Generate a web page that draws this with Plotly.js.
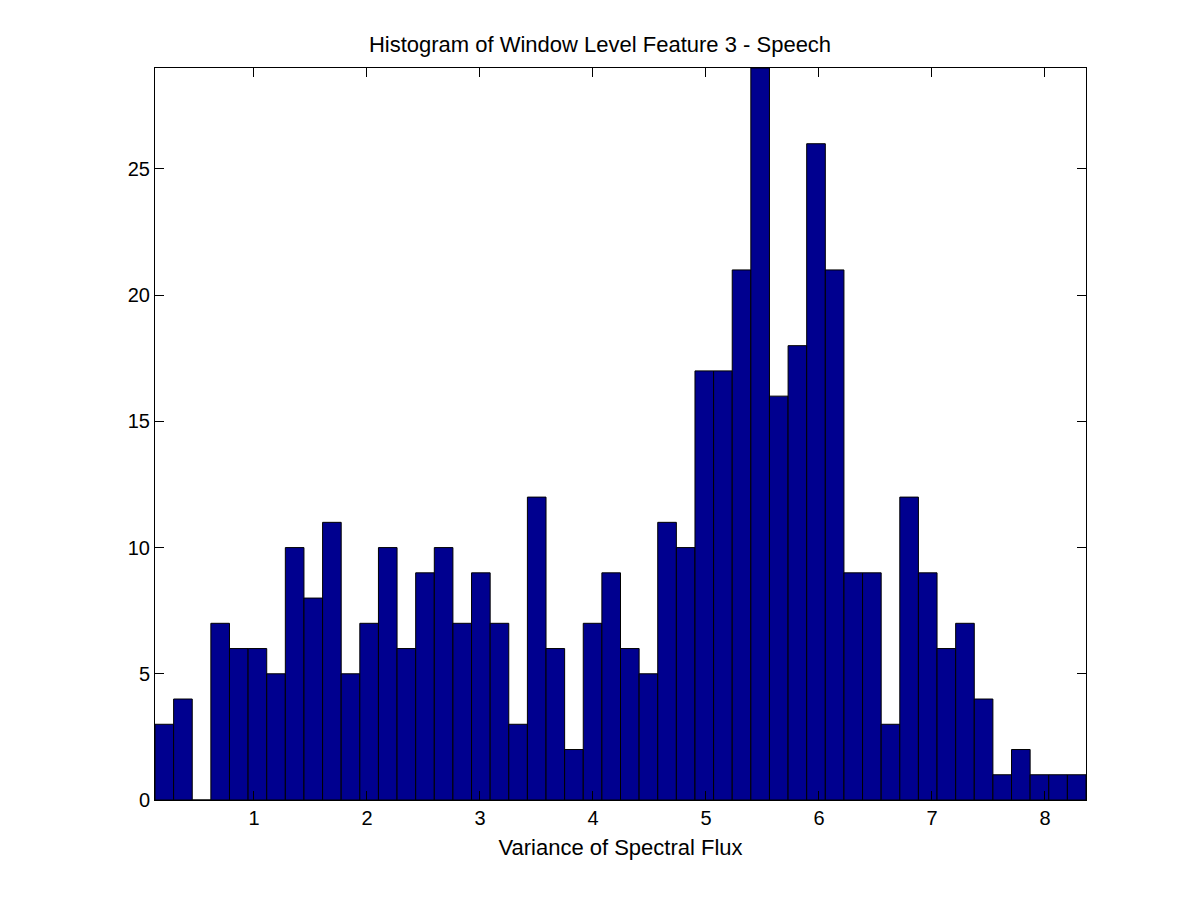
<!DOCTYPE html>
<html>
<head>
<meta charset="utf-8">
<script src="https://cdn.plot.ly/plotly-3.0.1.min.js"></script>
<style>
  html, body { margin: 0; padding: 0; background: #fff; }
  #chart { width: 1200px; height: 900px; }
</style>
</head>
<body>
<div id="chart"></div>
<script>
// histogram bins (50 equal bins)
const binStart = 0.124;
const binWidth = 0.16478;
const counts = [3, 4, 0, 7, 6, 6, 5, 10, 8, 11,
                5, 7, 10, 6, 9, 10, 7, 9, 7, 3,
                12, 6, 2, 7, 9, 6, 5, 11, 10, 17,
                17, 21, 29, 16, 18, 26, 21, 9, 9, 3,
                12, 9, 6, 7, 4, 1, 2, 1, 1, 1];
const xTicks = [1, 2, 3, 4, 5, 6, 7, 8];
const yTicks = [0, 5, 10, 15, 20, 25];

const centers = counts.map((_, i) => binStart + binWidth * (i + 0.5));
const xEnd = binStart + binWidth * counts.length;

const fam = 'Liberation Sans, Arial, sans-serif';

const trace = {
    type: 'bar',
    x: centers,
    y: counts,
    width: binWidth,
    marker: { color: '#00008F', line: { color: '#000', width: 1 } },
    hoverinfo: 'x+y'
};

const layout = {
    width: 1200,
    height: 900,
    paper_bgcolor: '#fff',
    plot_bgcolor: '#fff',
    font: { family: fam, size: 20, color: '#000' },
    showlegend: false,
    margin: { l: 155, r: 114, t: 68, b: 100 },
    title: {
        text: 'Histogram of Window Level Feature 3 - Speech',
        font: { family: fam, size: 22, color: '#000' },
        x: 0.5, xanchor: 'center', y: 0.951, yanchor: 'middle'
    },
    xaxis: {
        range: [binStart, xEnd],
        tickvals: xTicks,
        ticks: 'inside', ticklen: 9, tickcolor: '#000',
        showline: true, linecolor: '#000', linewidth: 1, mirror: 'ticks',
        showgrid: false, zeroline: false,
        tickfont: { family: fam, size: 20, color: '#000' },
        title: { text: 'Variance of Spectral Flux', font: { family: fam, size: 22, color: '#000' }, standoff: 11 }
    },
    yaxis: {
        range: [0, 29],
        tickvals: yTicks,
        ticks: 'inside', ticklen: 9, tickcolor: '#000',
        showline: true, linecolor: '#000', linewidth: 1, mirror: 'ticks',
        showgrid: false, zeroline: false,
        tickfont: { family: fam, size: 20, color: '#000' }
    },
    bargap: 0
};

Plotly.newPlot('chart', [trace], layout, { displayModeBar: false, staticPlot: true });
</script>
</body>
</html>
